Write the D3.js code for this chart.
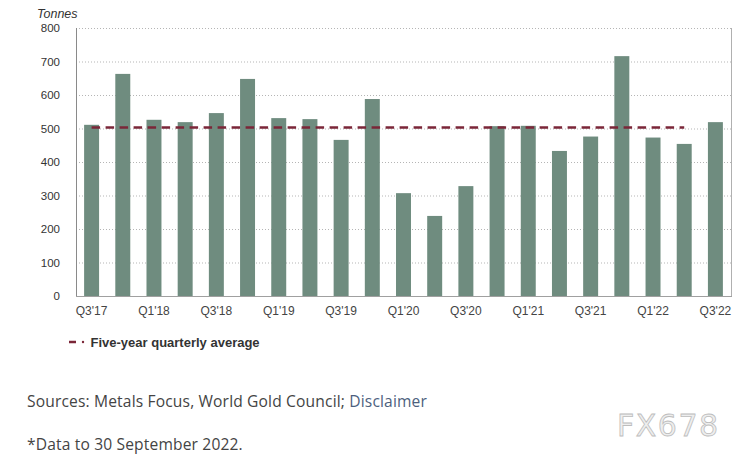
<!DOCTYPE html>
<html><head><meta charset="utf-8">
<script src="https://cdn.jsdelivr.net/npm/d3@7"></script>
<style>
html,body{margin:0;padding:0;background:#fff;}
svg{display:block;}
</style></head>
<body>
<svg id="c" width="746" height="460"></svg>
<script>
const categories = ["Q3'17","Q4'17","Q1'18","Q2'18","Q3'18","Q4'18","Q1'19","Q2'19","Q3'19","Q4'19","Q1'20","Q2'20","Q3'20","Q4'20","Q1'21","Q2'21","Q3'21","Q4'21","Q1'22","Q2'22","Q3'22"];
const demand = [511,663,526,519,546,648,531,528,466,588,307,239,328,507,508,433,476,716,473,454,519];
const avgCategories = ["Q3'17","Q4'17","Q1'18","Q2'18","Q3'18","Q4'18","Q1'19","Q2'19","Q3'19","Q4'19","Q1'20","Q2'20","Q3'20","Q4'20","Q1'21","Q2'21","Q3'21","Q4'21","Q1'22","Q2'22"];
const avgValues = [503,503,503,503,503,503,503,503,503,503,503,503,503,503,503,503,503,503,503,503];
const yTicks = [0,100,200,300,400,500,600,700,800];
const xTickLabels = ["Q3'17","Q1'18","Q3'18","Q1'19","Q3'19","Q1'20","Q3'20","Q1'21","Q3'21","Q1'22","Q3'22"];
const unitLabel = "Tonnes";
const legendLabel = "Five-year quarterly average";
const sourceText = "Sources: Metals Focus, World Gold Council; ";
const sourceLink = "Disclaimer";
const noteText = "*Data to 30 September 2022.";
const watermark = "FX678";

(function () {
const svg = d3.select("#c");
const pL = 76, pR = 731, pT = 28, pB = 296;
const x = d3.scaleBand().domain(categories).range([pL, pR]).paddingInner(0.52).paddingOuter(0.26);
const y = d3.scaleLinear().domain([0, 800]).range([pB, pT]);
const font = "'Liberation Sans', Arial, sans-serif";

// gridlines
svg.append("g").selectAll("line").data(yTicks.filter(d => d > 0)).join("line")
  .attr("x1", pL).attr("x2", pR)
  .attr("y1", d => y(d) + 0.5).attr("y2", d => y(d) + 0.5)
  .attr("stroke", "#b5b5b5").attr("stroke-width", 1).attr("stroke-dasharray", "1,2");

// y axis
const yAxis = svg.append("g").attr("transform", `translate(${pL},0)`)
  .call(d3.axisLeft(y).tickValues(yTicks).tickSize(0).tickPadding(16));
yAxis.select(".domain").remove();
yAxis.selectAll("text").attr("font-family", font).attr("font-size", 11.5).attr("fill", "#333");

// bars
svg.append("g").selectAll("rect").data(categories).join("rect")
  .attr("x", d => x(d)).attr("width", x.bandwidth())
  .attr("y", (d, i) => y(demand[i])).attr("height", (d, i) => y(0) - y(demand[i]))
  .attr("fill", "#6f8c7f");

// axis frame lines
svg.append("line").attr("x1", pL + 0.5).attr("x2", pL + 0.5).attr("y1", pT).attr("y2", pB + 1).attr("stroke", "#8a8a8a");
svg.append("line").attr("x1", pR + 0.5).attr("x2", pR + 0.5).attr("y1", pT).attr("y2", pB + 1).attr("stroke", "#b0b0b0");
svg.append("line").attr("x1", pL).attr("x2", pR + 1).attr("y1", pB + 0.5).attr("y2", pB + 0.5).attr("stroke", "#a0a0a0");

// x axis labels
const xAxis = svg.append("g").attr("transform", `translate(0,${pB})`)
  .call(d3.axisBottom(x).tickValues(xTickLabels).tickSize(0).tickPadding(10));
xAxis.select(".domain").remove();
xAxis.selectAll("text").attr("font-family", font).attr("font-size", 12).attr("fill", "#444");

// average line
const line = d3.line().x((d, i) => x(avgCategories[i]) + x.bandwidth() / 2).y(d => y(d));
svg.append("path").datum(avgValues).attr("d", line)
  .attr("fill", "none").attr("stroke", "#7b2638").attr("stroke-width", 2.5)
  .attr("stroke-dasharray", "8.5,5.5");

// unit label
svg.append("text").attr("x", 37).attr("y", 18).text(unitLabel)
  .attr("font-family", font).attr("font-size", 12.5).attr("font-style", "italic").attr("fill", "#333");

// legend
svg.append("line").attr("x1", 69).attr("x2", 76).attr("y1", 342).attr("y2", 342).attr("stroke", "#7b2638").attr("stroke-width", 2.5);
svg.append("circle").attr("cx", 83).attr("cy", 342).attr("r", 1.2).attr("fill", "#7b2638");
svg.append("text").attr("x", 90.5).attr("y", 346.5).text(legendLabel)
  .attr("font-family", font).attr("font-size", 13).attr("font-weight", "bold").attr("fill", "#333");

// footer
const src = svg.append("text").attr("x", 27).attr("y", 407)
  .attr("font-family", "'Open Sans', sans-serif").attr("font-size", 15.6).attr("letter-spacing", 0.15).attr("fill", "#444");
src.append("tspan").text(sourceText);
src.append("tspan").text(sourceLink).attr("fill", "#4d5f7e");
svg.append("text").attr("x", 27).attr("y", 450).text(noteText)
  .attr("font-family", "'Open Sans', sans-serif").attr("font-size", 15.6).attr("letter-spacing", 0.15).attr("fill", "#444");

// watermark
svg.append("text").attr("x", 617).attr("y", 436).text(watermark)
  .attr("font-family", "'DejaVu Sans', sans-serif").attr("font-size", 30).attr("letter-spacing", 1.5)
  .attr("fill", "#eeeeee").attr("stroke", "#bdbdbd").attr("stroke-width", 0.8);
})();
</script>
</body></html>
